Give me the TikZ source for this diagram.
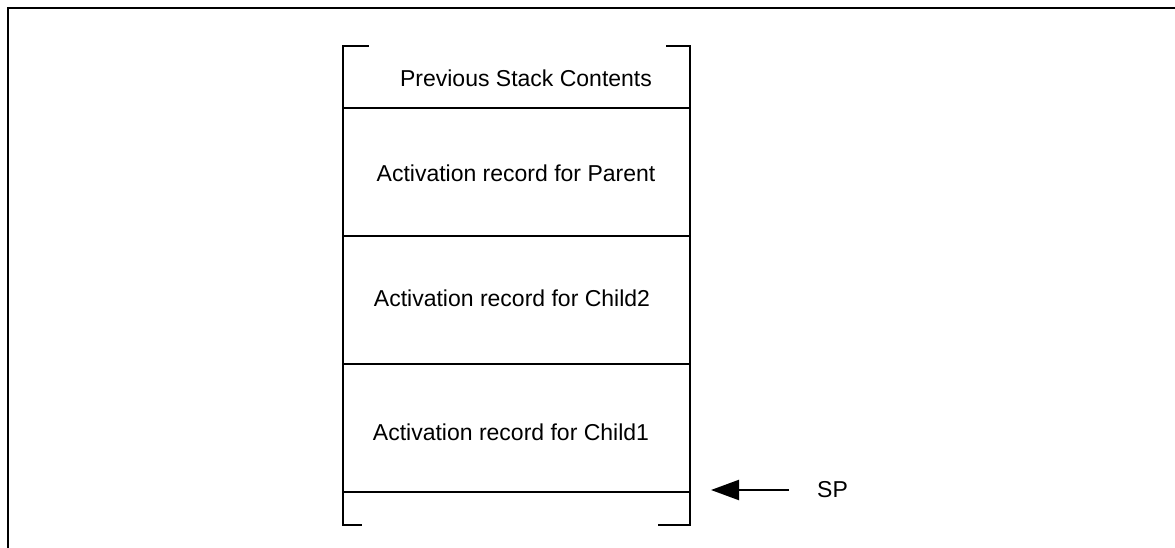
\documentclass[tikz,border=0pt]{standalone}
\usepackage{fontspec}
\setmainfont{Liberation Sans}
\usetikzlibrary{arrows.meta}
\begin{document}
\begin{tikzpicture}[x=1pt,y=-1pt,
  stackline/.style={line width=2.6pt, line cap=rect},
  frameline/.style={line width=2pt},
  lbl/.style={font=\fontsize{23}{27}\selectfont, inner sep=0pt, anchor=center},
  pointer/.style={line width=2.2pt, -{Triangle[length=28pt,width=20pt]}}]
\useasboundingbox (0,0) rectangle (1175,548);
% outer frame (cropped)
\draw[frameline] (8,548) -- (8,8) -- (1175,8);
% stack brackets
\draw[stackline] (368,46) -- (343,46) -- (343,525) -- (361,525);
\draw[stackline] (667,46) -- (690,46) -- (690,525) -- (659,525);
% separators
\draw[stackline] (343,108) -- (690,108);
\draw[stackline] (343,236) -- (690,236);
\draw[stackline] (343,364) -- (690,364);
\draw[stackline] (343,492) -- (690,492);
% labels
\node[lbl] (prev) at (526,78) {Previous Stack Contents};
\node[lbl] (parent) at (516,173) {Activation record for Parent};
\node[lbl] (child2) at (512,298) {Activation record for Child2};
\node[lbl] (child1) at (511,432) {Activation record for Child1};
\node[lbl, anchor=west] (sp) at (817,490) {SP};
\coordinate (tail) at (789,490);
\coordinate (tip) at (711,490);
\draw[pointer] (tail) -- (tip);
\end{tikzpicture}
\end{document}
